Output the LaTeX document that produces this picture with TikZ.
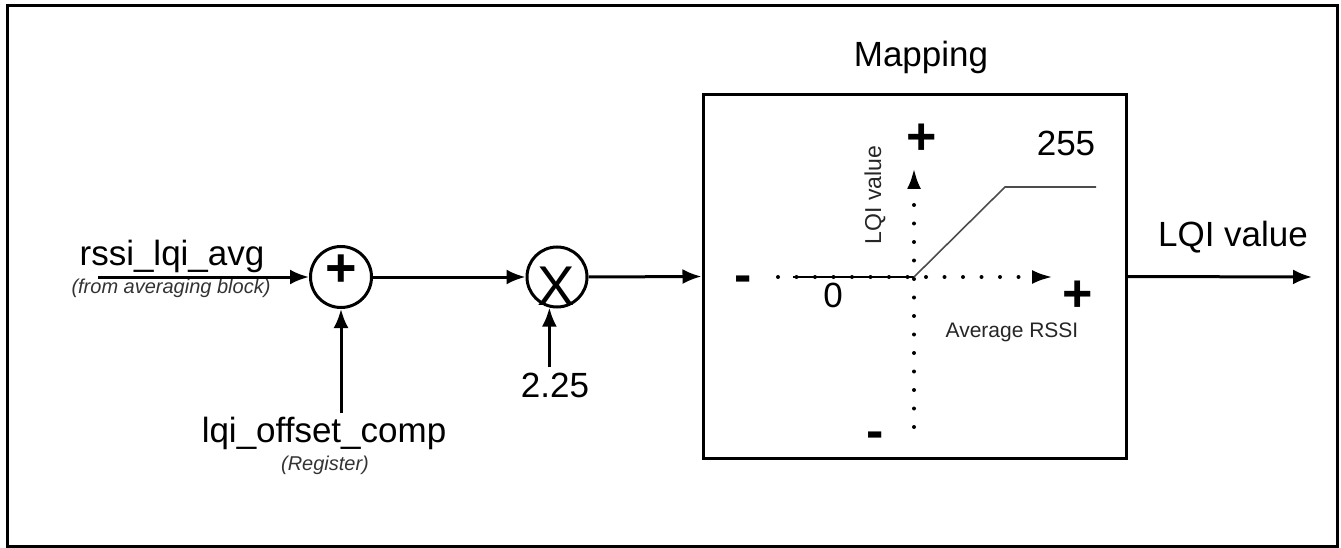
\documentclass[tikz,border=0pt]{standalone}
\usepackage{fontspec}
\setmainfont{Liberation Sans}
\usetikzlibrary{arrows.meta, positioning, calc}
\tikzset{
    junction/.style={circle, draw, line width=3pt, minimum size=61pt, inner sep=0pt},
    map_box/.style={rectangle, draw, line width=3pt, minimum width=423pt, minimum height=363pt, inner sep=0pt},
    label_big/.style={font=\fontsize{35}{40}\selectfont, inner sep=0pt},
    label_small/.style={font=\fontsize{20}{24}\selectfont\itshape, text=black!80, inner sep=0pt},
    label_axis/.style={font=\fontsize{21}{24}\selectfont, text=black!85, inner sep=0pt},
    op_sign/.style={font=\fontsize{56}{56}\selectfont, inner sep=0pt},
    axis_sign/.style={font=\fontsize{52}{52}\selectfont\bfseries, inner sep=0pt},
    arrow/.style={-{Latex[length=19pt,width=15pt]}, line width=3pt},
    axis_arrow/.style={-{Latex[length=21pt,width=14pt]}, line width=4pt, line cap=round, dash pattern=on 0pt off 18.5pt},
    ramp/.style={line width=1.6pt, draw=black!70}
}
\begin{document}
\begin{tikzpicture}[x=1pt, y=-1pt]
\useasboundingbox (0,0) rectangle (1341,548);

% Frame
\draw[line width=3pt] (7,6) rectangle (1337,546.5);

% Blocks
\node (sum) [junction] at (341,277) {};
\node (prod) [junction, minimum size=60pt] at (557,277) {};
\node (map) [map_box] at (914.5,276.5) {};
\node [op_sign, font=\fontsize{54}{54}\selectfont\bfseries] at (341,271) {+};
\node [op_sign] at (556,286) {X};

% Labels
\node (avg) [label_big, anchor=base] at (172,265) {rssi\_lqi\_avg};
\node (avgnote) [label_small, anchor=base] at (171,293) {(from averaging block)};
\node (offset) [label_big, anchor=base] at (324,442) {lqi\_offset\_comp};
\node (offnote) [label_small, anchor=base] at (325,470) {(Register)};
\node (gain) [label_big, anchor=base] at (555,397) {2.25};
\node (title) [label_big, anchor=base] at (921,67) {Mapping};
\node (out) [label_big, anchor=base] at (1233,246) {LQI value};
\coordinate (in) at (98,277);
\coordinate (outend) at (1312,277);

% Main flow
\draw[arrow] (in) -- (sum.west);
\draw[arrow] (sum.east) -- (prod.west);
\draw[arrow] (prod.east) -- (map.west);
\draw[arrow] (map.east) -- (outend);

% Side inputs
\draw[arrow] ([yshift=3pt]offset.north -| sum.south) -- (sum.south);
\draw[arrow] ([yshift=5pt]gain.north -| prod.256) -- (prod.256);

% Mapping curve
\coordinate (o) at (914,277);
\coordinate (xneg) at (778,277);
\coordinate (xpos) at (1053,277);
\coordinate (yneg) at (914,427);
\coordinate (ypos) at (914,168);
\draw[axis_arrow] (xneg) -- (xpos);
\draw[axis_arrow] (yneg) -- (ypos);
\draw[line width=2pt] (793,277) -- (o);
\draw[ramp] (o) -- (1005,187) -- (1096,187);

\node [axis_sign] at (743,284) {-};
\node [axis_sign] at (1078,296) {+};
\node [axis_sign] at (922,139) {+};
\node [axis_sign] at (875,440) {-};
\node [label_big, anchor=base] at (833,307) {0};
\node [label_big, anchor=base] at (1066,156) {255};
\node [label_axis, anchor=base] at (1012,337) {Average RSSI};
\node [label_axis, font=\fontsize{23}{26}\selectfont, rotate=90] at (875,195) {LQI value};

\end{tikzpicture}
\end{document}
